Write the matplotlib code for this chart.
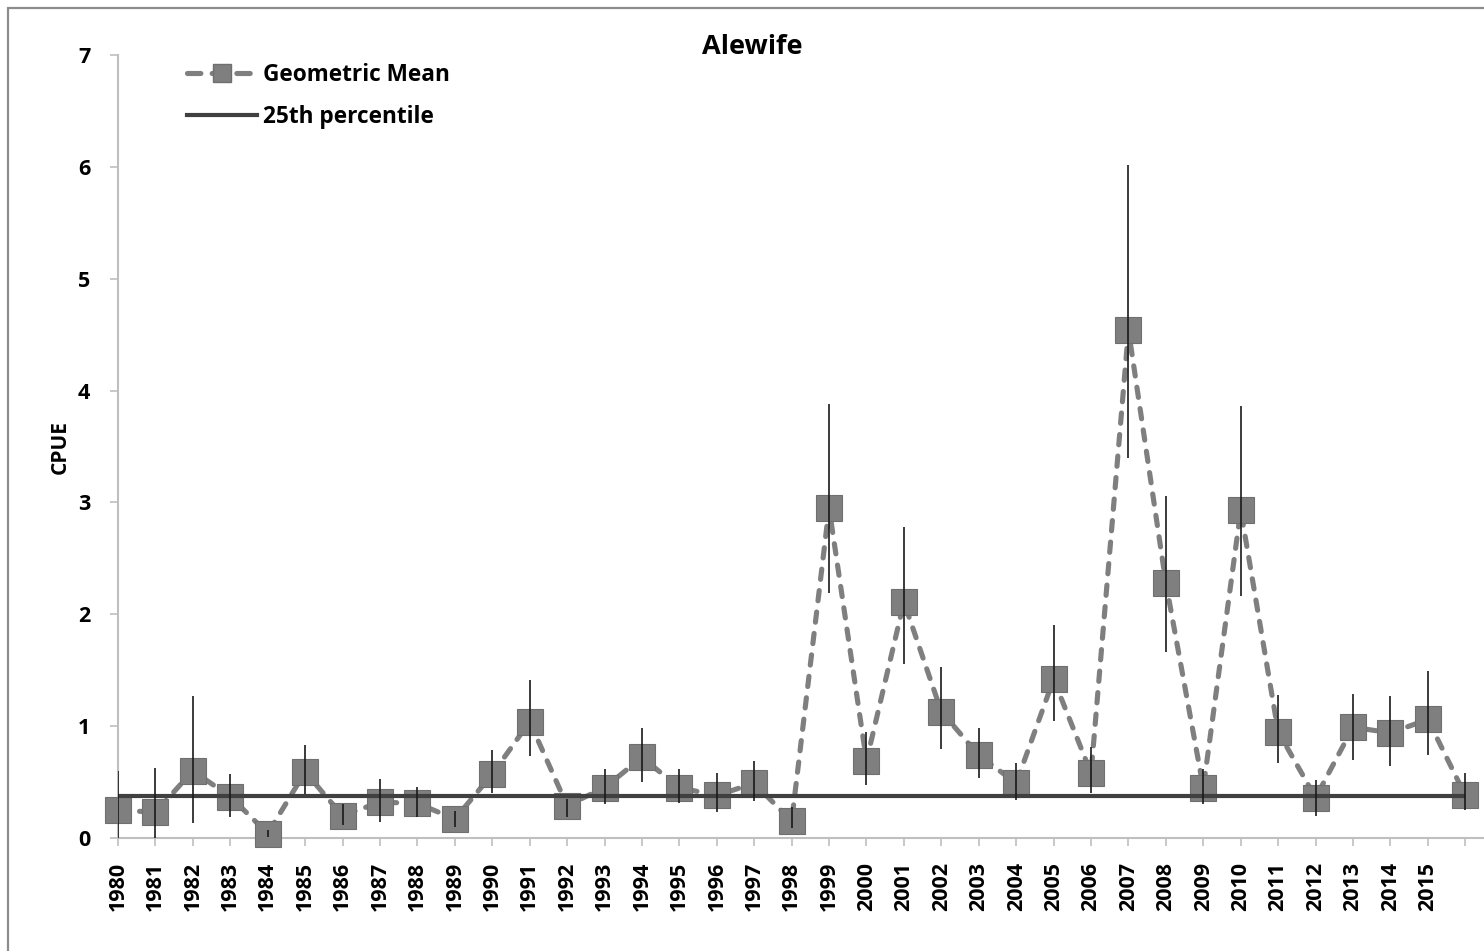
import matplotlib.pyplot as plt
from matplotlib.patches import Rectangle
import numpy as np

plt.rcParams['font.family'] = ['Open Sans', 'DejaVu Sans']
plt.rcParams['font.weight'] = 'bold'

# Category labels (last category has no label in the original)
years = [str(y) for y in range(1980, 2016)] + ['']

# Geometric mean CPUE
geo_mean = [0.25, 0.23, 0.60, 0.37, 0.04, 0.59, 0.20, 0.32, 0.31, 0.17,
            0.57, 1.04, 0.29, 0.45, 0.72, 0.45, 0.38, 0.49, 0.15, 2.95,
            0.69, 2.11, 1.13, 0.74, 0.49, 1.42, 0.58, 4.54, 2.28, 0.45,
            2.93, 0.95, 0.36, 0.99, 0.94, 1.06, 0.38]

# error bar upper / lower ends
err_hi = [0.60, 0.63, 1.27, 0.57, 0.07, 0.83, 0.30, 0.53, 0.46, 0.24,
          0.79, 1.41, 0.35, 0.62, 0.98, 0.62, 0.58, 0.69, 0.28, 3.88,
          0.95, 2.78, 1.53, 0.98, 0.67, 1.90, 0.81, 6.02, 3.06, 0.62,
          3.86, 1.28, 0.52, 1.29, 1.27, 1.49, 0.58]
err_lo = [0.00, 0.00, 0.13, 0.19, 0.01, 0.39, 0.12, 0.14, 0.19, 0.10,
          0.40, 0.73, 0.19, 0.30, 0.50, 0.31, 0.23, 0.33, 0.09, 2.19,
          0.47, 1.56, 0.80, 0.54, 0.34, 1.05, 0.40, 3.40, 1.66, 0.30,
          2.16, 0.67, 0.20, 0.70, 0.64, 0.74, 0.25]

pct25 = 0.375

x = np.arange(len(years))
gm = np.array(geo_mean)
lo = gm - np.array(err_lo)
hi = np.array(err_hi) - gm

fig = plt.figure(figsize=(14.84, 9.51), dpi=100)
ax = fig.add_axes([118 / 1484, 113 / 951, 1 - 118 / 1484, (838 - 55) / 951])

# outer chart frame
fig.patches.append(Rectangle((8 / 1484, -0.05), 1.2, 1 - 8 / 951 + 0.05,
                             transform=fig.transFigure, fill=False,
                             edgecolor='#8c8c8c', linewidth=1.6))

gray = '#7f7f7f'
ax.plot(x, gm, color=gray, lw=3.7, linestyle=(0, (2.0, 2.2)),
        dash_capstyle='round', zorder=2, clip_on=False)
ax.plot(x, gm, linestyle='none', marker='s', markersize=18.5,
        markerfacecolor=gray, markeredgecolor='#6f6f6f', markeredgewidth=0.8,
        zorder=3, clip_on=False)
ax.plot(x, [pct25] * len(x), color='#404040', lw=3.0, zorder=4,
        solid_capstyle='butt', clip_on=False)
ax.errorbar(x, gm, yerr=[lo, hi], fmt='none', ecolor='#1a1a1a',
            elinewidth=1.2, capsize=0, zorder=5)

# legend handles
h1, = ax.plot([], [], color=gray, lw=3.7, linestyle=(0, (2.6, 2.2)),
              dash_capstyle='round', marker='s', markersize=13.5,
              markerfacecolor=gray, markeredgecolor='#6f6f6f')
h2, = ax.plot([], [], color='#404040', lw=3.0)
leg = fig.legend([h1, h2], ['Geometric Mean', '25th percentile'],
                 loc='upper left', bbox_to_anchor=(187 / 1484, 1 - 63 / 951),
                 frameon=False, fontsize=16.3, handlelength=3.1,
                 handletextpad=0.27, labelspacing=0.8, borderpad=0,
                 borderaxespad=0)

ax.set_xlim(0, 36.5)
ax.set_ylim(0, 7)
ax.set_xticks(x)
ax.set_xticklabels(years, rotation=90, fontsize=15.5, fontweight='bold')
ax.set_yticks(range(0, 8))
ax.set_yticklabels([str(v) for v in range(0, 8)], fontsize=15.5,
                   fontweight='bold')
ax.tick_params(axis='both', length=6, width=1.2, color='#bfbfbf')
ax.tick_params(axis='x', pad=11)
ax.tick_params(axis='y', pad=14)

for s in ['top', 'right']:
    ax.spines[s].set_visible(False)
for s in ['left', 'bottom']:
    ax.spines[s].set_color('#bfbfbf')
    ax.spines[s].set_linewidth(1.5)

fig.text(60 / 1484, 1 - 447 / 951, 'CPUE', rotation=90, ha='center',
         va='center', fontsize=15, fontweight='bold')
fig.text(752 / 1484, 1 - 47 / 951, 'Alewife', ha='center', va='center',
         fontsize=19.5, fontweight='bold')

fig.savefig('out.png', dpi=100)
